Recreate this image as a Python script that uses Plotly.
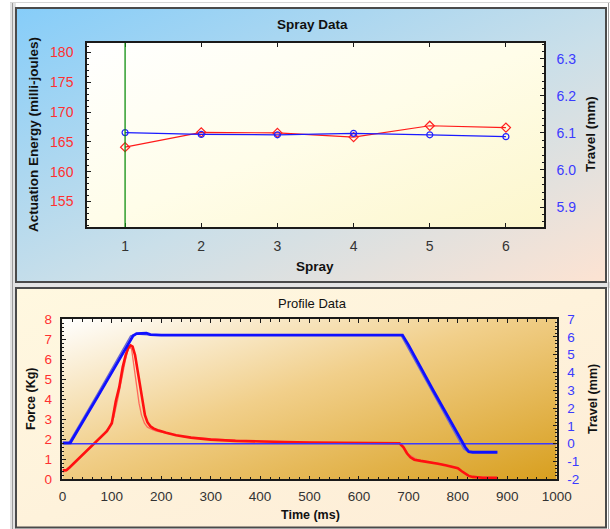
import base64
import plotly.graph_objects as go

W, H = 610, 529
FONT = "Liberation Sans, Arial, sans-serif"

# ---------------- data: Spray Data ----------------
sprays = [1, 2, 3, 4, 5, 6]
energy_mj = [164.1, 166.6, 166.5, 165.8, 167.7, 167.4]
spray_travel_mm = [6.101, 6.096, 6.095, 6.099, 6.095, 6.090]
selected_spray = 1

# ---------------- data: Profile Data ----------------
force_time = [0, 8, 15, 30, 45, 60, 75, 90, 100, 108, 115, 122, 128, 133, 138, 142,
              147, 151, 155, 159, 163, 167, 172, 178, 184, 195, 210, 230, 260, 300,
              350, 400, 450, 500, 550, 600, 650, 682, 690, 697, 704, 712, 725, 745,
              760, 775, 790, 800, 808, 815, 822, 830, 850, 880]
force_kg = [0.45, 0.45, 0.6, 0.95, 1.3, 1.65, 2.0, 2.4, 2.8, 3.9, 4.6, 5.6, 6.2, 6.55, 6.68, 6.62,
            6.2, 5.6, 4.9, 4.2, 3.6, 3.2, 2.85, 2.65, 2.54, 2.43, 2.32, 2.2, 2.08, 1.98,
            1.92, 1.88, 1.86, 1.84, 1.82, 1.8, 1.8, 1.8, 1.6, 1.3, 1.1, 0.98, 0.92, 0.85,
            0.78, 0.7, 0.62, 0.55, 0.4, 0.27, 0.17, 0.12, 0.08, 0.08]

force2_time = [0, 10, 25, 40, 55, 70, 85, 95, 104, 112, 120, 127, 132, 136, 140,
               145, 150, 155, 160, 166, 172, 180, 190, 250, 400, 680, 688, 700, 720,
               760, 795, 810, 825, 880]
force2_kg = [0.35, 0.45, 0.85, 1.2, 1.55, 1.95, 2.3, 2.6, 3.1, 4.0, 5.1, 5.9, 6.4, 6.6, 6.5,
             5.7, 4.7, 3.8, 3.2, 2.8, 2.6, 2.5, 2.4, 2.1, 1.87, 1.8, 1.7, 1.25, 0.95,
             0.8, 0.6, 0.35, 0.15, 0.08]

travel_time = [0, 16, 72, 103, 135, 143, 150, 170, 178, 200, 688, 700, 750,
               800, 815, 822, 830, 880]
travel_mm = [0.05, 0.05, 2.67, 4.15, 5.68, 6.06, 6.18, 6.2, 6.12, 6.1, 6.1, 5.55, 3.0,
             0.6, -0.2, -0.45, -0.48, -0.48]

travel2_time = [0, 12, 70, 100, 138, 150, 170, 185, 685, 750, 812, 820, 880]
travel2_mm = [0.0, 0.0, 2.75, 4.2, 6.05, 6.15, 6.12, 6.08, 6.08, 2.85, -0.3, -0.45, -0.48]

baseline_time = [0, 1000]
baseline_travel = [0, 0]

# tick labels of the profile travel axis (plain hyphen minus as in the original)
profile_travel_ticks = [-2, -1, 0, 1, 2, 3, 4, 5, 6, 7]
profile_travel_labels = ["-2", "-1", "0", "1", "2", "3", "4", "5", "6", "7"]


def px(x):
    return x / W


def py(y):
    return 1 - y / H


def grad(stops):
    st = "".join(f'<stop offset="{o}" stop-color="{c}"/>' for o, c in stops)
    svg = ('<svg xmlns="http://www.w3.org/2000/svg" width="200" height="200" '
           'viewBox="0 0 200 200" preserveAspectRatio="none">'
           f'<defs><linearGradient id="g" x1="0" y1="0" x2="1" y2="1">{st}</linearGradient></defs>'
           '<rect width="200" height="200" fill="url(#g)"/></svg>')
    return "data:image/svg+xml;base64," + base64.b64encode(svg.encode()).decode()


def img(src, x0, y0, x1, y1):
    return dict(source=src, xref="paper", yref="paper", x=px(x0), y=py(y0),
                sizex=px(x1) - px(x0), sizey=py(y0) - py(y1), sizing="stretch",
                layer="below", xanchor="left", yanchor="top")


fig = go.Figure()

fig.add_trace(go.Scatter(x=sprays, y=energy_mj, mode="lines+markers", xaxis="x", yaxis="y",
                         line=dict(color="#ff1a1a", width=1.2),
                         marker=dict(symbol="diamond-open", size=7, color="#ff2020", line=dict(width=1.2)),
                         showlegend=False))
fig.add_trace(go.Scatter(x=sprays, y=spray_travel_mm, mode="lines+markers", xaxis="x", yaxis="y2",
                         line=dict(color="#1a1aff", width=1.2),
                         marker=dict(symbol="circle-open", size=6, color="#2020ff", line=dict(width=1.2)),
                         showlegend=False))

fig.add_trace(go.Scatter(x=force2_time, y=force2_kg, mode="lines", xaxis="x2", yaxis="y3",
                         line=dict(color="#ff6a5a", width=1.3), showlegend=False))
fig.add_trace(go.Scatter(x=force_time, y=force_kg, mode="lines", xaxis="x2", yaxis="y3",
                         line=dict(color="#ff1010", width=2.6), showlegend=False))
fig.add_trace(go.Scatter(x=baseline_time, y=baseline_travel, mode="lines", xaxis="x2", yaxis="y4",
                         line=dict(color="#3a3aff", width=1.5), showlegend=False))
fig.add_trace(go.Scatter(x=travel2_time, y=travel2_mm, mode="lines", xaxis="x2", yaxis="y4",
                         line=dict(color="#6a6ad0", width=1.3), showlegend=False))
fig.add_trace(go.Scatter(x=travel_time, y=travel_mm, mode="lines", xaxis="x2", yaxis="y4",
                         line=dict(color="#1010ff", width=2.8), showlegend=False))

LC = "#1a1a1a"
base = dict(showgrid=False, zeroline=False, linecolor=LC, tickcolor=LC, tickwidth=1, automargin=False)

top_xd = [px(87), px(544)]
top_yd = [py(227), py(43)]
bot_xd = [px(62.4), px(556.7)]
bot_yd = [py(479.3), py(319)]

e_range = [150.7, 181.6]
t_range = [5.846, 6.343]

layout_axes = dict(
    xaxis=dict(base, domain=top_xd, anchor="y", range=[0.5, 6.5], tickvals=sprays,
               ticks="inside", ticklen=4, showline=True, linewidth=1.5, mirror="ticks",
               tickfont=dict(family=FONT, size=14, color="#333"), ticklabelstandoff=5),
    xaxis3=dict(base, overlaying="x", anchor="y", range=[0.5, 6.5], tickvals=sprays,
                ticks="outside", ticklen=4, showline=False, showticklabels=False),
    yaxis=dict(base, domain=top_yd, anchor="x", range=e_range, tick0=155, dtick=5,
               ticks="inside", ticklen=4, showline=True, linewidth=1.5,
               minor=dict(dtick=1, tick0=155, ticks="inside", ticklen=2, tickcolor=LC),
               tickfont=dict(family=FONT, size=14, color="#ff3030"), ticklabelstandoff=9),
    yaxis5=dict(base, overlaying="y", anchor="x", side="left", range=e_range, tick0=155, dtick=5,
                ticks="outside", ticklen=4, showline=False, showticklabels=False,
                minor=dict(dtick=1, tick0=155, ticks="outside", ticklen=2, tickcolor=LC)),
    yaxis2=dict(base, overlaying="y", anchor="x", side="right", range=t_range, tick0=5.9, dtick=0.1,
                tickformat=".1f", ticks="inside", ticklen=4, showline=True, linewidth=1.5,
                minor=dict(dtick=0.02, tick0=5.9, ticks="inside", ticklen=2, tickcolor=LC),
                tickfont=dict(family=FONT, size=14, color="#3a3aff"), ticklabelstandoff=8),
    yaxis6=dict(base, overlaying="y", anchor="x", side="right", range=t_range, tick0=5.9, dtick=0.1,
                ticks="outside", ticklen=4, showline=False, showticklabels=False,
                minor=dict(dtick=0.02, tick0=5.9, ticks="outside", ticklen=2, tickcolor=LC)),

    xaxis2=dict(base, domain=bot_xd, anchor="y3", range=[0, 1000], dtick=100,
                ticks="inside", ticklen=4, showline=True, linewidth=1.5, mirror="ticks",
                minor=dict(dtick=20, ticks="inside", ticklen=3, tickcolor=LC),
                tickfont=dict(family=FONT, size=13.5, color="#333"), ticklabelstandoff=4),
    xaxis4=dict(base, overlaying="x2", anchor="y3", range=[0, 1000], dtick=100,
                ticks="outside", ticklen=4, showline=False, showticklabels=False,
                minor=dict(dtick=20, ticks="outside", ticklen=2, tickcolor=LC)),
    yaxis3=dict(base, domain=bot_yd, anchor="x2", range=[0, 8], dtick=1,
                ticks="inside", ticklen=4, showline=True, linewidth=1.5,
                minor=dict(dtick=0.2, ticks="inside", ticklen=2, tickcolor=LC),
                tickfont=dict(family=FONT, size=13.5, color="#ff3030"), ticklabelstandoff=6),
    yaxis7=dict(base, overlaying="y3", anchor="x2", side="left", range=[0, 8], dtick=1,
                ticks="outside", ticklen=4, showline=False, showticklabels=False,
                minor=dict(dtick=0.2, ticks="outside", ticklen=2, tickcolor=LC)),
    yaxis4=dict(base, overlaying="y3", anchor="x2", side="right", range=[-2, 7],
                tickvals=profile_travel_ticks, ticktext=profile_travel_labels,
                ticks="inside", ticklen=4, showline=True, linewidth=1.5,
                minor=dict(dtick=0.2, tick0=-2, ticks="inside", ticklen=2, tickcolor=LC),
                tickfont=dict(family=FONT, size=13.5, color="#3a3aff"), ticklabelstandoff=6),
    yaxis8=dict(base, overlaying="y3", anchor="x2", side="right", range=[-2, 7], dtick=1,
                ticks="outside", ticklen=4, showline=False, showticklabels=False,
                minor=dict(dtick=0.2, tick0=-2, ticks="outside", ticklen=2, tickcolor=LC)),
)

images = [
    img(grad([(0, "#86cdf9"), (0.55, "#cadfe9"), (1, "#fde3d2")]), 16, 8, 606, 282),
    img(grad([(0, "#ffffff"), (0.5, "#fffde9"), (1, "#fcf6cc")]), 87, 43, 544, 227),
    img(grad([(0, "#fff8e0"), (1, "#fdecd6")]), 16, 288, 606, 527),
    img(grad([(0, "#ffffff"), (0.45, "#f1cf8a"), (1, "#d89f1f")]), 62.4, 319, 556.7, 479.3),
]


def rect(x0, y0, x1, y1, fill=None, line=None, lw=0, layer="above"):
    return dict(type="rect", xref="paper", yref="paper", x0=px(x0), x1=px(x1), y0=py(y0), y1=py(y1),
                fillcolor=fill or "rgba(0,0,0,0)", line=dict(color=line or "rgba(0,0,0,0)", width=lw),
                layer=layer)


def hline(x0, x1, y, color, w=1):
    return dict(type="line", xref="paper", yref="paper", x0=px(x0), x1=px(x1), y0=py(y), y1=py(y),
                line=dict(color=color, width=w))


def vline(x, y0, y1, color, w=1):
    return dict(type="line", xref="paper", yref="paper", x0=px(x), x1=px(x), y0=py(y0), y1=py(y1),
                line=dict(color=color, width=w))


shapes = [
    hline(10, 610, 2.5, "#d6d6d6", 1),
    rect(10, 3, 16, 529, fill="#e2e2e2"),
    vline(12.5, 3, 529, "#9c9c9c", 1),
    rect(16, 282, 610, 288, fill="#e4e4e4"),
    vline(608.5, 3, 529, "#a0a0a0", 1),
    rect(16, 8, 606, 282, line="#4a4a4a", lw=2),
    rect(16, 288, 606, 527.5, line="#4a4a4a", lw=2),
    dict(type="line", xref="x", yref="y domain", x0=selected_spray, x1=selected_spray, y0=0, y1=1,
         line=dict(color="#0f8f0f", width=1.3)),
]


def ann(text, x, y, size, bold=True, angle=0):
    return dict(text=f"<b>{text}</b>" if bold else text, xref="paper", yref="paper",
                x=px(x), y=py(y), xanchor="center", yanchor="middle", showarrow=False,
                textangle=angle, font=dict(family=FONT, size=size, color="#111"))


annotations = [
    ann("Spray Data", 312, 24.5, 13.5),
    ann("Actuation Energy (milli-joules)", 33, 135, 13.5, angle=-90),
    ann("Travel (mm)", 590.5, 134.5, 13.5, angle=-90),
    ann("Spray", 315, 266.5, 13.5),
    ann("Profile Data", 312.5, 303, 13, bold=False),
    ann("Force (Kg)", 31, 399, 12.5, angle=-90),
    ann("Travel (mm)", 592.5, 399.5, 12.5, angle=-90),
    ann("Time (ms)", 310, 515, 12.5),
]

fig.update_layout(
    width=W, height=H, margin=dict(l=0, r=0, t=0, b=0, autoexpand=False),
    paper_bgcolor="#ffffff", plot_bgcolor="rgba(0,0,0,0)",
    showlegend=False, images=images, shapes=shapes, annotations=annotations,
    font=dict(family=FONT),
    **layout_axes,
)

fig.write_html(
    "out.html",
    config={"displayModeBar": False},
    post_script="document.body.style.margin='0';document.documentElement.style.overflow='hidden';",
)
